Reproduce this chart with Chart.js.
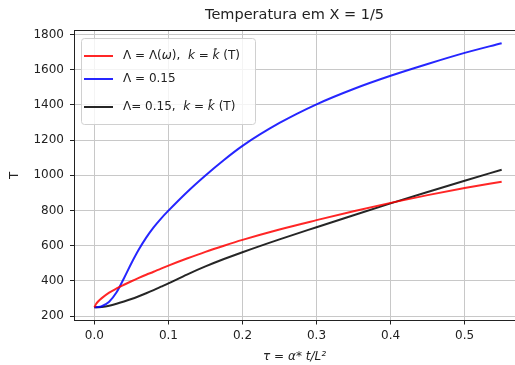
<!DOCTYPE html>
<html>
<head>
<meta charset="utf-8">
<script src="https://cdn.jsdelivr.net/npm/chart.js@4"></script>
<style>
  body { margin: 0; background: #ffffff; }
  #caja { width: 515px; height: 365px; }
</style>
</head>
<body>
<div id="caja"><canvas id="grafico" width="515" height="365"></canvas></div>
<script>
// Datos
const tau = [0, 0.0025, 0.005, 0.01, 0.02, 0.03, 0.04, 0.05, 0.06, 0.07, 0.08, 0.09, 0.1, 0.125, 0.15, 0.175, 0.2, 0.25, 0.3, 0.35, 0.4, 0.45, 0.5, 0.55];
const tempLambdaOmega = [250, 270, 283, 302, 333, 357, 378, 398, 417, 435, 452, 470, 487, 527, 565, 600, 633, 692, 745, 796, 843, 887, 927, 963];
const tempLambda015 = [250, 250.3, 251, 256, 282, 335, 415, 500, 578, 646, 704, 754, 799, 904, 999, 1087, 1167, 1297, 1403, 1490, 1565, 1632, 1695, 1750];
const tempLambda015k = [250, 250.1, 250.5, 252, 259, 270, 283, 297, 313, 330, 348, 367, 386, 436, 482, 524, 563, 636, 705, 773, 840, 905, 969, 1031];

const ticksX = [0, 0.1, 0.2, 0.3, 0.4, 0.5];
const ticksY = [200, 400, 600, 800, 1000, 1200, 1400, 1600, 1800];

const titulo = 'Temperatura em X = 1/5';
const tituloX = 'τ = α* t/L²';
const tituloY = 'T';

// Etiquetas de la leyenda: trozos [texto, cursiva]
const etiquetas = [
    [['Λ = Λ(', false], ['ω', true], ['),  ', false], ['k', true], [' = ', false], ['k\u0302', true], [' (T)', false]],
    [['Λ = 0.15', false]],
    [['Λ= 0.15,  ', false], ['k', true], [' = ', false], ['k\u0302', true], [' (T)', false]]
];
const colores = ['rgba(255,0,0,0.85)', 'rgba(0,0,255,0.85)', 'rgba(0,0,0,0.85)'];

const fuente = 'DejaVu Sans';

function puntos(ys) {
    return tau.map((t, i) => ({ x: t, y: ys[i] }));
}

// Marco superior y leyenda dentro del área
const pluginExtra = {
    id: 'extra',
    afterDraw(chart) {
        const c = chart.ctx;
        const a = chart.chartArea;
        c.save();
        c.strokeStyle = '#222';
        c.lineWidth = 1;
        c.beginPath();
        c.moveTo(a.left, a.top + 0.5);
        c.lineTo(a.right, a.top + 0.5);
        c.stroke();

        // caja de la leyenda
        const bx = a.left + 7, by = a.top + 8, bw = 174, bh = 86;
        c.beginPath();
        c.roundRect(bx + 0.5, by + 0.5, bw, bh, 3);
        c.fillStyle = 'rgba(255,255,255,0.8)';
        c.fill();
        c.strokeStyle = '#d0d0d0';
        c.stroke();

        const filas = [by + 18, by + 41, by + 69];
        etiquetas.forEach((trozos, i) => {
            const y = filas[i];
            c.strokeStyle = colores[i];
            c.lineWidth = 2;
            c.beginPath();
            c.moveTo(bx + 3, y);
            c.lineTo(bx + 32, y);
            c.stroke();
            let x = bx + 42;
            c.fillStyle = '#222';
            c.textBaseline = 'middle';
            trozos.forEach(([txt, it]) => {
                c.font = (it ? 'italic ' : '') + '12px "' + fuente + '"';
                c.fillText(txt, x, y);
                x += c.measureText(txt).width;
            });
        });
        c.restore();
    }
};

const ctx = document.getElementById('grafico').getContext('2d');
const grafico = new Chart(ctx, {
    type: 'line',
    data: {
        datasets: [
            { label: 'Λ = Λ(ω), k = k̂ (T)', data: puntos(tempLambdaOmega), borderColor: colores[0] },
            { label: 'Λ = 0.15', data: puntos(tempLambda015), borderColor: colores[1] },
            { label: 'Λ= 0.15, k = k̂ (T)', data: puntos(tempLambda015k), borderColor: colores[2] }
        ]
    },
    options: {
        responsive: false,
        animation: false,
        layout: { padding: { left: 0, right: 0, top: 0, bottom: 0 } },
        datasets: {
            line: { borderWidth: 2, pointRadius: 0, fill: false, cubicInterpolationMode: 'monotone' }
        },
        plugins: {
            legend: { display: false },
            tooltip: { enabled: false },
            title: {
                display: true,
                text: titulo,
                fullSize: false,
                color: '#222',
                font: { family: fuente, size: 14.5, weight: 'normal' },
                padding: { top: 6.5, bottom: 6.1 }
            }
        },
        scales: {
            x: {
                type: 'linear',
                min: -0.0275,
                max: 0.568,
                afterBuildTicks: s => { s.ticks = ticksX.map(v => ({ value: v })); },
                afterFit: s => { s.height = 44.5; },
                grid: { color: '#c8c8c8', lineWidth: 1, tickColor: '#222', tickLength: 4 },
                border: { color: '#222', width: 1 },
                ticks: {
                    color: '#222', padding: 4, maxRotation: 0,
                    font: { family: fuente, size: 12 },
                    callback: v => v.toFixed(1)
                },
                title: {
                    display: true, text: tituloX, color: '#222',
                    font: { family: fuente, size: 12, style: 'italic' },
                    padding: { top: 0, bottom: 1 }
                }
            },
            y: {
                min: 175,
                max: 1825,
                afterBuildTicks: s => { s.ticks = ticksY.map(v => ({ value: v })); },
                afterFit: s => { s.width = 74; },
                grid: { color: '#c8c8c8', lineWidth: 1, tickColor: '#222', tickLength: 4 },
                border: { color: '#222', width: 1 },
                ticks: {
                    color: '#222', padding: 6,
                    font: { family: fuente, size: 12 },
                    callback: v => String(v)
                },
                title: {
                    display: true, text: tituloY, color: '#222',
                    font: { family: fuente, size: 12 },
                    padding: { top: 8, bottom: 0 }
                }
            }
        }
    },
    plugins: [pluginExtra]
});
</script>
</body>
</html>
